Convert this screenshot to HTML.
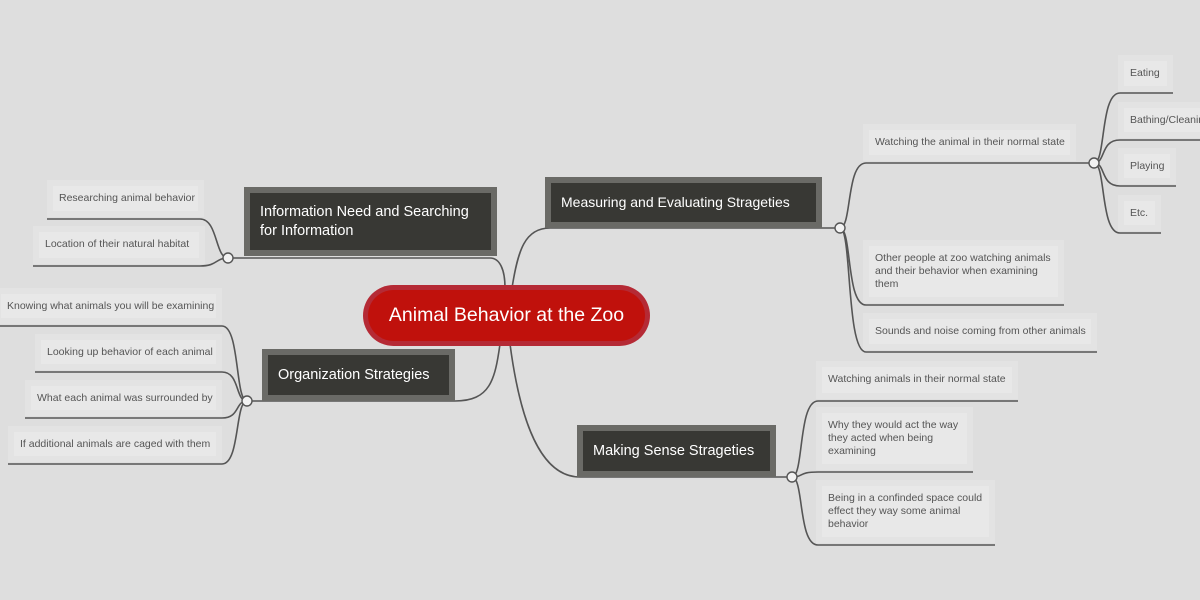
<!DOCTYPE html>
<html><head><meta charset="utf-8"><style>
body{margin:0;width:1200px;height:600px;overflow:hidden;background:#dedede;font-family:"Liberation Sans",sans-serif;position:relative}
.l{position:absolute;background:#e3e3e3;box-sizing:border-box;padding:6px}
.l div{background:#e8e8e8;height:100%;box-sizing:border-box;padding:6px 6px;font-size:10.5px;line-height:13px;color:#555;white-space:nowrap}
.m{position:absolute;background:#6a6a66;box-sizing:border-box;padding:6px}
.m div{background:#383834;height:100%;box-sizing:border-box;color:#fff;font-size:14.5px;line-height:19px;padding:0 10px;display:flex;align-items:center}
svg{position:absolute;left:0;top:0}
</style></head><body>
<svg width="1200" height="600" fill="none" stroke="#555" stroke-width="1.6">
<path d="M505,288 C505,270 500,258 490,258 L228,258"/>
<path d="M512,288 C518,250 525,228 550,228 L840,228"/>
<path d="M500,344 C495,380 490,401 455,401 L247,401"/>
<path d="M510,344 C520,420 540,477 580,477 L792,477"/>
<path d="M228,258 C215,258 218,219 200,219 L47,219"/>
<path d="M228,258 C215,258 218,266 200,266 L33,266"/>
<path d="M247,401 C235,401 240,326 222,326 L0,326"/>
<path d="M247,401 C235,401 240,372 222,372 L35,372"/>
<path d="M247,401 C235,401 240,418 222,418 L25,418"/>
<path d="M247,401 C235,401 240,464 222,464 L8,464"/>
<path d="M840,228 C852,228 846,163 866,163 L1094,163"/>
<path d="M840,228 C852,228 846,305 866,305 L1064,305"/>
<path d="M840,228 C852,228 846,352 866,352 L1097,352"/>
<path d="M1094,163 C1106,163 1100,93 1120,93 L1173,93"/>
<path d="M1094,163 C1106,163 1100,140 1120,140 L1200,140"/>
<path d="M1094,163 C1106,163 1100,186 1120,186 L1176,186"/>
<path d="M1094,163 C1106,163 1100,233 1120,233 L1161,233"/>
<path d="M792,477 C804,477 798,401 818,401 L1018,401"/>
<path d="M792,477 C804,477 798,472 818,472 L973,472"/>
<path d="M792,477 C804,477 798,545 818,545 L995,545"/>
<g fill="#f2f2f2" stroke="#555" stroke-width="1.4">
<circle cx="228" cy="258" r="5"/><circle cx="247" cy="401" r="5"/><circle cx="840" cy="228" r="5"/><circle cx="792" cy="477" r="5"/><circle cx="1094" cy="163" r="5"/>
</g>
</svg>
<div style="position:absolute;left:363px;top:285px;width:287px;height:61px;border-radius:31px;background:#b52a35;box-sizing:border-box;padding:5px">
<div style="background:#c0110c;border-radius:26px;height:100%;color:#fff;font-size:19.5px;display:flex;align-items:center;justify-content:center">Animal Behavior at the Zoo</div></div>

<div class="m" style="left:244px;top:187px;width:253px;height:69px"><div>Information Need and Searching for Information</div></div>
<div class="m" style="left:545px;top:177px;width:277px;height:51px"><div style="white-space:nowrap;font-size:14px">Measuring and Evaluating Strageties</div></div>
<div class="m" style="left:262px;top:349px;width:193px;height:52px"><div>Organization Strategies</div></div>
<div class="m" style="left:577px;top:425px;width:199px;height:52px"><div>Making Sense Strageties</div></div>

<div class="l" style="left:47px;top:180px;width:157px;height:37px"><div>Researching animal behavior</div></div>
<div class="l" style="left:33px;top:226px;width:172px;height:38px"><div>Location of their natural habitat</div></div>

<div class="l" style="left:-5px;top:288px;width:227px;height:36px"><div>Knowing what animals you will be examining</div></div>
<div class="l" style="left:35px;top:334px;width:187px;height:36px"><div>Looking up behavior of each animal</div></div>
<div class="l" style="left:25px;top:380px;width:197px;height:36px"><div>What each animal was surrounded by</div></div>
<div class="l" style="left:8px;top:426px;width:214px;height:36px"><div>If additional animals are caged with them</div></div>

<div class="l" style="left:863px;top:124px;width:213px;height:37px"><div>Watching the animal in their normal state</div></div>
<div class="l" style="left:863px;top:240px;width:201px;height:63px"><div>Other people at zoo watching animals<br>and their behavior when examining<br>them</div></div>
<div class="l" style="left:863px;top:313px;width:234px;height:37px"><div>Sounds and noise coming from other animals</div></div>

<div class="l" style="left:1118px;top:55px;width:55px;height:37px"><div>Eating</div></div>
<div class="l" style="left:1118px;top:102px;width:90px;height:36px"><div>Bathing/Cleaning</div></div>
<div class="l" style="left:1118px;top:148px;width:58px;height:36px"><div>Playing</div></div>
<div class="l" style="left:1118px;top:195px;width:43px;height:36px"><div>Etc.</div></div>

<div class="l" style="left:816px;top:361px;width:202px;height:38px"><div>Watching animals in their normal state</div></div>
<div class="l" style="left:816px;top:407px;width:157px;height:63px"><div>Why they would act the way<br>they acted when being<br>examining</div></div>
<div class="l" style="left:816px;top:480px;width:179px;height:63px"><div>Being in a confinded space could<br>effect they way some animal<br>behavior</div></div>
</body></html>
